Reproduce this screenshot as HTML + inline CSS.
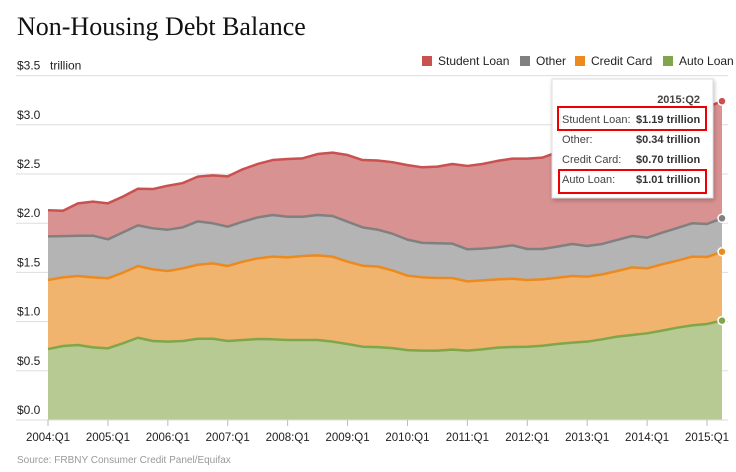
<!DOCTYPE html>
<html><head><meta charset="utf-8"><style>
body{margin:0;background:#fff;width:736px;height:472px;overflow:hidden;font-family:"Liberation Sans",Arial,sans-serif}
svg{display:block}
</style></head><body>
<svg id="chart" width="736" height="472">
<text x="17" y="35" font-family="Liberation Serif,serif" font-size="26" fill="#111">Non-Housing Debt Balance</text>
<g id="grid"></g>
<g id="areas"></g>
<g id="axis"></g>
<g id="legend"></g>
<text x="17" y="463" font-size="10" fill="#999">Source: FRBNY Consumer Credit Panel/Equifax</text>
<g id="tooltip">
<rect x="552" y="79" width="161" height="119" fill="#fff" stroke="#ddd" style="filter:drop-shadow(1px 2px 2px rgba(0,0,0,0.25))"></rect>
<text x="700" y="103" font-size="11" font-weight="bold" fill="#444" text-anchor="end">2015:Q2</text>
<rect x="558" y="107" width="148" height="23" fill="none" stroke="#e00" stroke-width="2"></rect>
<text x="562" y="123" font-size="11" fill="#444">Student Loan:</text><text x="636" y="123" font-size="11" font-weight="bold" fill="#333">$1.19 trillion</text>
<text x="562" y="143" font-size="11" fill="#444">Other:</text><text x="636" y="143" font-size="11" font-weight="bold" fill="#333">$0.34 trillion</text>
<text x="562" y="163" font-size="11" fill="#444">Credit Card:</text><text x="636" y="163" font-size="11" font-weight="bold" fill="#333">$0.70 trillion</text>
<rect x="559" y="170" width="147" height="23" fill="none" stroke="#e00" stroke-width="2"></rect>
<text x="562" y="183" font-size="11" fill="#444">Auto Loan:</text><text x="636" y="183" font-size="11" font-weight="bold" fill="#333">$1.01 trillion</text>
</g>
</svg>
<script>
// cumulative stacked tops (trillions), 2004:Q1 .. 2015:Q2
const autoTop=[0.721,0.752,0.762,0.738,0.728,0.779,0.836,0.803,0.796,0.803,0.826,0.826,0.803,0.813,0.823,0.82,0.813,0.813,0.813,0.796,0.772,0.745,0.74,0.73,0.71,0.705,0.705,0.715,0.705,0.718,0.735,0.742,0.745,0.755,0.772,0.786,0.796,0.82,0.847,0.864,0.881,0.908,0.938,0.962,0.976,1.01];
const cardTop=[1.423,1.45,1.463,1.45,1.44,1.497,1.565,1.531,1.514,1.541,1.578,1.592,1.565,1.609,1.643,1.66,1.653,1.667,1.673,1.66,1.609,1.568,1.56,1.52,1.467,1.45,1.443,1.443,1.409,1.419,1.429,1.436,1.423,1.429,1.446,1.463,1.457,1.48,1.514,1.551,1.541,1.582,1.619,1.66,1.656,1.71];
const otherTop=[1.866,1.869,1.873,1.873,1.836,1.907,1.978,1.948,1.934,1.958,2.019,1.999,1.965,2.015,2.059,2.083,2.066,2.066,2.083,2.073,2.015,1.958,1.935,1.893,1.833,1.8,1.796,1.792,1.735,1.741,1.755,1.775,1.738,1.738,1.762,1.789,1.768,1.789,1.83,1.87,1.853,1.904,1.951,1.999,1.992,2.05];
const studentTop=[2.131,2.127,2.202,2.219,2.202,2.27,2.35,2.347,2.381,2.408,2.473,2.486,2.476,2.548,2.602,2.642,2.652,2.659,2.703,2.717,2.693,2.642,2.637,2.62,2.59,2.568,2.575,2.602,2.582,2.602,2.633,2.656,2.656,2.666,2.72,2.78,2.81,2.86,2.92,2.97,2.98,3.04,3.1,3.15,3.18,3.24];
const yTicks=[0,0.5,1,1.5,2,2.5,3,3.5];
const xTickLabels=["2004:Q1","2005:Q1","2006:Q1","2007:Q1","2008:Q1","2009:Q1","2010:Q1","2011:Q1","2012:Q1","2013:Q1","2014:Q1","2015:Q1"];
const seriesNames=["Student Loan","Other","Credit Card","Auto Loan"];

const NS="http://www.w3.org/2000/svg";
const x=i=>48+i*(674/45);
const y=v=>420-v*98.4;
function mk(tag,attrs,parent){const e=document.createElementNS(NS,tag);for(const k in attrs)e.setAttribute(k,attrs[k]);parent.appendChild(e);return e;}
const grid=document.getElementById('grid'),areas=document.getElementById('areas'),axis=document.getElementById('axis'),legend=document.getElementById('legend');
yTicks.forEach(t=>{
  const l=mk('line',{x1:16,x2:728,y1:y(t),y2:y(t),stroke:'#ddd','stroke-width':1},grid);
  
  
  const tx=mk('text',{x:17,y:y(t)-6,'font-size':12,fill:'#222'},grid);
  tx.textContent='$'+t.toFixed(1);
  
  
});
const u=mk('text',{x:50,y:y(3.5)-6,'font-size':12,fill:'#222'},grid);u.textContent='trillion';



const layers=[
 {top:studentTop,base:otherTop,fill:'#d99292',line:'#c9514f',name:'student-loan'},
 {top:otherTop,base:cardTop,fill:'#b4b4b4',line:'#808080',name:'other'},
 {top:cardTop,base:autoTop,fill:'#f0b46e',line:'#ec8a1f',name:'credit-card'},
 {top:autoTop,base:null,fill:'#b8ca93',line:'#7fa64a',name:'auto-loan'}];
layers.forEach(L=>{
  const n=L.top.length;
  let d='M'+x(0)+','+y(L.top[0]);
  for(let i=1;i<n;i++)d+='L'+x(i)+','+y(L.top[i]);
  for(let i=n-1;i>=0;i--)d+='L'+x(i)+','+y(L.base?L.base[i]:0);
  const a=mk('path',{d:d+'Z',fill:L.fill},areas);
  
  
});
layers.forEach(L=>{
  let d='';L.top.forEach((v,i)=>d+=(i?'L':'M')+x(i)+','+y(v));
  const p=mk('path',{d,fill:'none',stroke:L.line,'stroke-width':2.5,'stroke-linejoin':'round'},areas);
  
  
  const last=L.top.length-1;
  const c=mk('circle',{cx:x(last),cy:y(L.top[last]),r:4,fill:L.line,stroke:'#fff','stroke-width':1.5},areas);
  
  
});
mk('line',{x1:16,x2:728,y1:420,y2:420,stroke:'#ddd'},axis);
xTickLabels.forEach((t,k)=>{
  const xx=x(k*4);
  mk('line',{x1:xx,x2:xx,y1:420,y2:426,stroke:'#bbb'},axis);
  const tx=mk('text',{x:xx,y:441,'font-size':11.5,fill:'#222','text-anchor':'middle'},axis);
  tx.textContent=t;
  
  
});
const lg=[[422,'#c9514f'],[520,'#808080'],[575,'#ec8a1f'],[663,'#7fa64a']];
seriesNames.forEach((s,k)=>{
  const g=mk('g',{},legend);
  
  
  mk('rect',{x:lg[k][0],y:56,width:10,height:10,fill:lg[k][1]},g);
  const t=mk('text',{x:lg[k][0]+16,y:65,'font-size':12,fill:'#222'},g);t.textContent=s;
});
</script>
</body></html>
